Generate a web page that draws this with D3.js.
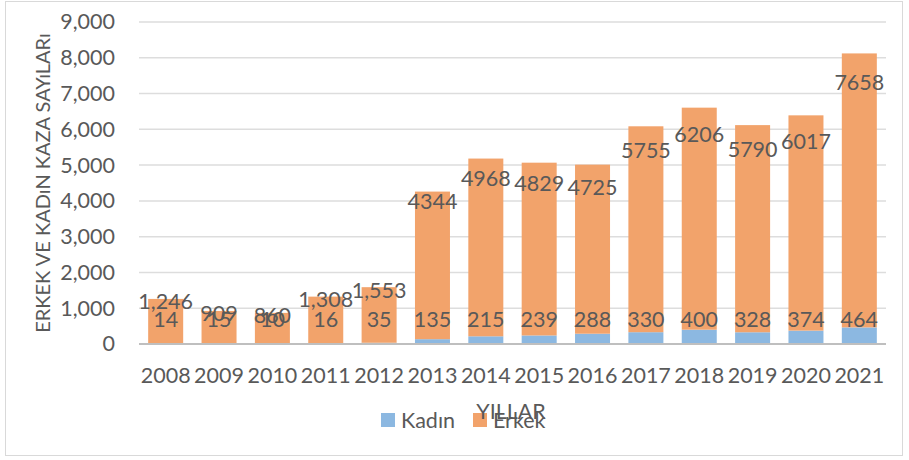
<!DOCTYPE html>
<html>
<head>
<meta charset="utf-8">
<script src="https://cdn.jsdelivr.net/npm/d3@7"></script>
<style>
  html, body { margin: 0; padding: 0; background: #fff; }
  svg { display: block; }
  text { font-family: Lato, "Open Sans", sans-serif; fill: #595959; }
</style>
</head>
<body>
<svg id="chart" width="909" height="460"></svg>
<script>
// ---- data ----
const years = ["2008","2009","2010","2011","2012","2013","2014","2015","2016","2017","2018","2019","2020","2021"];
const kadin = [14, 15, 10, 16, 35, 135, 215, 239, 288, 330, 400, 328, 374, 464];
const erkek = [1246, 909, 860, 1308, 1553, 4125, 4968, 4829, 4725, 5755, 6206, 5790, 6017, 7658];
const kadinLabels = ["14","15","10","16","35","135","215","239","288","330","400","328","374","464"];
const erkekLabels = ["1,246","909","860","1,308","1,553","4344","4968","4829","4725","5755","6206","5790","6017","7658"];
const yTicks = [0, 1000, 2000, 3000, 4000, 5000, 6000, 7000, 8000, 9000];
const seriesNames = ["Kadın", "Erkek"];
const colors = ["#8CB8E1", "#F2A36B"];
const yTitle = "ERKEK VE KADıN KAZA SAYıLARı";
const xTitle = "YILLAR";

// ---- build ----
(function () {
const svg = d3.select("#chart");
const pLeft = 139, pRight = 886, pTop = 22, pBottom = 344;
const fs = 21.5;

// border
svg.append("rect")
  .attr("x", 5.5).attr("y", 1.5).attr("width", 897).attr("height", 454)
  .attr("fill", "#fff").attr("stroke", "#D9D9D9").attr("stroke-width", 1);

const x = d3.scaleBand().domain(years).range([pLeft, pRight]).paddingInner(0.344).paddingOuter(0.172);
const y = d3.scaleLinear().domain([0, 9000]).range([pBottom, pTop]);

// gridlines
svg.append("g").selectAll("line").data(yTicks.filter(d => d > 0)).join("line")
  .attr("x1", pLeft).attr("x2", pRight)
  .attr("y1", d => y(d)).attr("y2", d => y(d))
  .attr("stroke", "#DDDDDD").attr("stroke-width", 1.5);

// y axis labels
const yAxis = d3.axisLeft(y).tickValues(yTicks).tickFormat(d3.format(",")).tickSize(0).tickPadding(0);
const gy = svg.append("g").attr("transform", "translate(115,0)").call(yAxis);
gy.select(".domain").remove();
gy.selectAll("text").attr("font-size", fs).attr("fill", "#595959")
  .style("font-family", "Lato, 'Open Sans', sans-serif");

// stacked data
const rows = years.map((yr, i) => ({ year: yr, "Kadın": kadin[i], "Erkek": erkek[i] }));
const stack = d3.stack().keys(seriesNames)(rows);

svg.append("g").selectAll("g").data(stack).join("g")
  .attr("fill", (d, i) => colors[i])
  .selectAll("rect").data(d => d).join("rect")
  .attr("x", d => x(d.data.year))
  .attr("width", x.bandwidth())
  .attr("y", d => y(d[1]))
  .attr("height", d => y(d[0]) - y(d[1]));

// x axis
const xAxis = d3.axisBottom(x).tickSize(0).tickPadding(0);
const gx = svg.append("g").attr("transform", `translate(0,${pBottom})`).call(xAxis);
gx.select(".domain").remove();
gx.selectAll("text").attr("font-size", fs).attr("fill", "#595959")
  .attr("dy", null).attr("y", 30.5).attr("dominant-baseline", "central")
  .style("font-family", "Lato, 'Open Sans', sans-serif");
svg.append("line")
  .attr("x1", pLeft).attr("x2", pRight).attr("y1", pBottom).attr("y2", pBottom)
  .attr("stroke", "#BFBFBF").attr("stroke-width", 2);

// data labels - Kadın
const kadinLabelY = y(700);
svg.append("g").selectAll("text").data(years).join("text")
  .attr("x", d => x(d) + x.bandwidth() / 2)
  .attr("y", kadinLabelY)
  .attr("text-anchor", "middle").attr("dominant-baseline", "central")
  .attr("font-size", fs)
  .text((d, i) => kadinLabels[i]);

// data labels - Erkek
svg.append("g").selectAll("text").data(years).join("text")
  .attr("x", d => x(d) + x.bandwidth() / 2)
  .attr("y", (d, i) => {
    const v = +erkekLabels[i].replace(/,/g, "");
    const inside = y(v) + 12;
    return inside < kadinLabelY - 22 ? inside : y(v) + 2;
  })
  .attr("text-anchor", "middle").attr("dominant-baseline", "central")
  .attr("font-size", fs)
  .text((d, i) => erkekLabels[i]);

// y title
svg.append("text")
  .attr("transform", `translate(42,${(pTop + pBottom) / 2}) rotate(-90)`)
  .attr("text-anchor", "middle").attr("dominant-baseline", "central")
  .attr("font-size", 20)
  .text(yTitle);

// legend
const legend = svg.append("g");
const legendX = [381, 473];
seriesNames.forEach((name, i) => {
  legend.append("rect").attr("x", legendX[i]).attr("y", 413).attr("width", 14).attr("height", 14).attr("fill", colors[i]);
  legend.append("text").attr("x", legendX[i] + 20).attr("y", 420)
    .attr("dominant-baseline", "central").attr("font-size", fs).text(name);
});

// x title
svg.append("text")
  .attr("x", 511).attr("y", 411)
  .attr("text-anchor", "middle").attr("dominant-baseline", "central")
  .attr("font-size", fs)
  .text(xTitle);
})();
</script>
</body>
</html>
